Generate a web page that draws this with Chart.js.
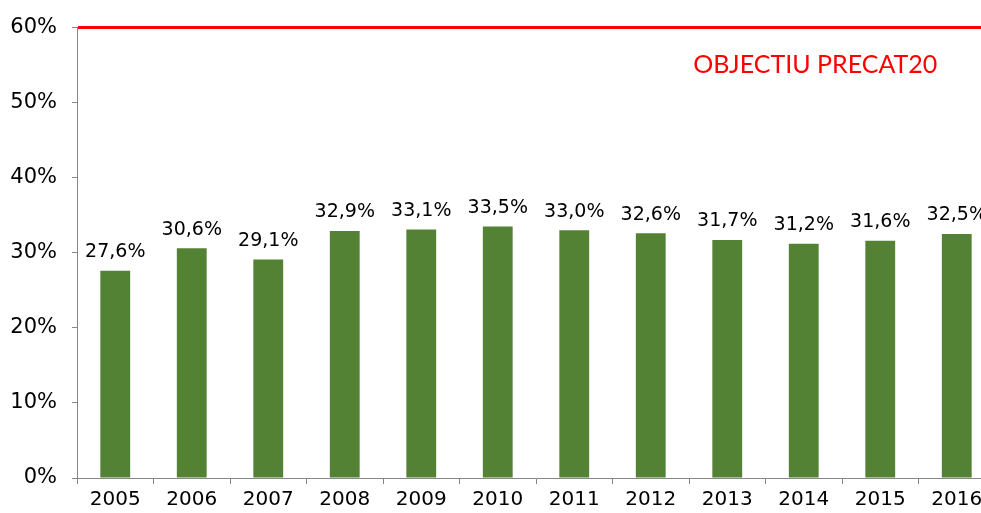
<!DOCTYPE html>
<html>
<head>
<meta charset="utf-8">
<script src="https://cdn.jsdelivr.net/npm/chart.js@4/dist/chart.umd.min.js"></script>
<style>
  html, body { margin: 0; padding: 0; background: #fff; overflow: hidden; width: 981px; height: 513px; }
  canvas { display: block; }
</style>
</head>
<body>
<canvas id="c" width="1000" height="518"></canvas>
<script>
const years = ['2005','2006','2007','2008','2009','2010','2011','2012','2013','2014','2015','2016'];
const shares = [27.6, 30.6, 29.1, 32.9, 33.1, 33.5, 33.0, 32.6, 31.7, 31.2, 31.6, 32.5];
const targetValue = 60;
const targetLabel = 'OBJECTIU PRECAT20';
const yTicks = [0, 10, 20, 30, 40, 50, 60];

const fmt = v => v.toFixed(1).replace('.', ',') + '%';

const labelPlugin = {
  id: 'labels',
  afterDatasetsDraw(chart) {
    const ctx = chart.ctx;
    const meta = chart.getDatasetMeta(0);
    ctx.save();
    ctx.font = '19px "DejaVu Sans"';
    ctx.fillStyle = '#000';
    ctx.textAlign = 'center';
    ctx.textBaseline = 'bottom';
    meta.data.forEach((bar, i) => {
      ctx.fillText(fmt(shares[i]), bar.x, bar.y - 9);
    });
    // target annotation text
    const y = chart.scales.y.getPixelForValue(55.0);
    const x = chart.scales.x.getPixelForValue(9.15);
    ctx.font = '25px Lato';
    ctx.fillStyle = '#ff0000';
    ctx.textBaseline = 'middle';
    ctx.fillText(targetLabel, x, y);
    ctx.restore();
  }
};

new Chart(document.getElementById('c'), {
  type: 'bar',
  data: {
    labels: years,
    datasets: [{
      data: shares,
      backgroundColor: '#548235',
      barPercentage: 0.39,
      categoryPercentage: 1.0
    }]
  },
  options: {
    responsive: false,
    animation: false,
    layout: { padding: { left: 0, right: 5, top: 14, bottom: 2 } },
    plugins: { legend: { display: false }, tooltip: { enabled: false } },
    scales: {
      x: {
        grid: { offset: true, drawOnChartArea: false, tickLength: 6, color: '#868686' },
        border: { color: '#868686', width: 1 },
        ticks: { font: { family: 'DejaVu Sans', size: 20 }, color: '#000', padding: 4 }
      },
      y: {
        min: 0, max: 60,
        afterBuildTicks: axis => { axis.ticks = yTicks.map(v => ({ value: v })); },
        afterFit: axis => { axis.width = 77; },
        grid: {
          drawOnChartArea: true,
          color: c => c.tick && c.tick.value === targetValue ? '#ff0000' : 'rgba(0,0,0,0)',
          lineWidth: c => c.tick && c.tick.value === targetValue ? 3 : 1,
          tickColor: '#868686',
          tickWidth: 1,
          tickLength: 5
        },
        border: { color: '#868686', width: 1 },
        ticks: {
          font: { family: 'DejaVu Sans', size: 21 },
          color: '#000',
          padding: 15,
          callback: v => v + '%'
        }
      }
    }
  },
  plugins: [labelPlugin]
});
</script>
</body>
</html>
